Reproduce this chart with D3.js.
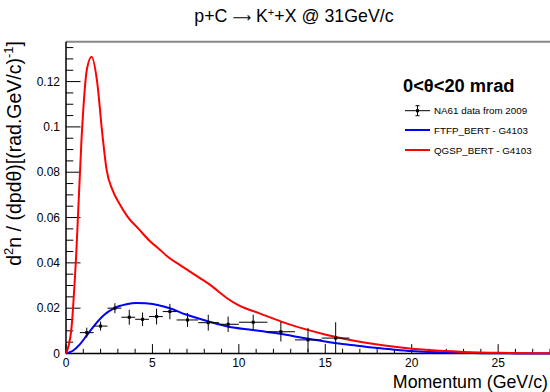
<!DOCTYPE html>
<html><head><meta charset="utf-8">
<script src="https://cdn.jsdelivr.net/npm/d3@7"></script>
<style>body{margin:0;background:#fff}svg{display:block;font-family:"Liberation Sans",Arial,sans-serif}</style>
</head><body><svg id="c" width="550" height="392"></svg>
<script>
// NA61 data (momentum bin low, high, value, error)
const dataXLo = [0.8,1.6,2.4,3.2,4.0,4.8,5.6,6.4,7.65,8.85,10.0,11.65,13.25,14.8];
const dataXHi = [1.6,2.4,3.2,4.0,4.8,5.6,6.4,7.65,8.85,10.0,11.65,13.25,14.8,16.4];
const dataX   = [1.2,2.0,2.83,3.66,4.43,5.24,6.01,7.03,8.23,9.38,10.83,12.43,14.0,15.6];
const dataY   = [0.0092,0.0121,0.0200,0.0160,0.0151,0.0163,0.0185,0.0148,0.0136,0.0129,0.0138,0.0096,0.0060,0.0068];
const dataErr = [0.0022,0.0020,0.0022,0.0033,0.0030,0.0035,0.0034,0.0031,0.0035,0.0034,0.0033,0.0043,0.0053,0.0070];
// FTFP_BERT curve
const ftfpX = [0,0.4,0.8,1.2,1.6,2.2,2.8,3.5,4.05,4.6,5.3,6.0,6.9,8.3,9.4,10.8,12.2,14.1,16.0,17,18,19,20,21,22,24,26,28];
const ftfpY = [0,0.0012,0.004,0.008,0.012,0.017,0.020,0.0217,0.0223,0.0222,0.0214,0.0200,0.0173,0.0140,0.0118,0.0104,0.0089,0.0064,0.0042,0.0033,0.0024,0.0017,0.0011,0.0007,0.0004,0.00015,0.00005,0];
// QGSP_BERT curve
const qgspX = [0,0.3,0.6,0.9,1.2,1.48,1.8,2.1,2.35,2.7,3.1,3.6,4.2,4.8,5.4,6.0,6.6,7.2,7.75,8.3,8.8,9.3,10.0,11.2,12.75,15.1,17.0,19,21,23,25,28];
const qgspY = [0,0.01,0.045,0.095,0.125,0.131,0.12,0.097,0.081,0.072,0.066,0.060,0.055,0.050,0.046,0.042,0.039,0.036,0.0333,0.0305,0.0275,0.0245,0.0212,0.0177,0.0133,0.0082,0.0052,0.0030,0.0015,0.0007,0.0003,0.0001];
const xTicks = [0,5,10,15,20,25];
const yTicks = [0,0.02,0.04,0.06,0.08,0.1,0.12];
const legendLabels = ["NA61 data from 2009","FTFP_BERT - G4103","QGSP_BERT - G4103"];

const svg = d3.select("#c");
const L=66, R=550, T=41.7, B=353.5;
const x = d3.scaleLinear().domain([0,28]).range([L,R]);
const y = d3.scaleLinear().domain([0,0.1376]).range([B,T]);

// frame top
svg.append("line").attr("x1",L).attr("x2",R).attr("y1",T).attr("y2",T).attr("stroke","#888").attr("stroke-width",2);

// x axis
const gx = svg.append("g");
gx.append("line").attr("x1",L).attr("x2",R).attr("y1",B).attr("y2",B).attr("stroke","#000").attr("stroke-width",1.5);
d3.range(0,29,1).forEach(v=>{
  const major = v%5===0;
  gx.append("line").attr("x1",x(v)).attr("x2",x(v)).attr("y1",B).attr("y2",B-(major?9.4:4.7)).attr("stroke","#000").attr("stroke-width",1);
});
xTicks.forEach(v=>{
  gx.append("text").attr("x",x(v)).attr("y",B+13).attr("text-anchor","middle").attr("font-size",12).text(v);
});
svg.append("text").attr("x",548).attr("y",388).attr("text-anchor","end").attr("font-size",17.8).text("Momentum (GeV/c)");

// y axis
const gy = svg.append("g");
gy.append("line").attr("x1",L).attr("x2",L).attr("y1",B).attr("y2",T).attr("stroke","#000").attr("stroke-width",1.5);
d3.range(0,0.1376,0.005).forEach((v,i)=>{
  const major = i%4===0;
  gy.append("line").attr("x1",L).attr("x2",L+(major?14.5:7.3)).attr("y1",y(v)).attr("y2",y(v)).attr("stroke","#000").attr("stroke-width",1);
});
yTicks.forEach(v=>{
  gy.append("text").attr("x",L-6).attr("y",y(v)+4).attr("text-anchor","end").attr("font-size",12).text(v);
});
const yt = svg.append("text").attr("transform","translate(21,41) rotate(-90)").attr("text-anchor","end").attr("font-size",19.5);
yt.append("tspan").text("d");
yt.append("tspan").attr("dy",-8).attr("font-size",13).text("2");
yt.append("tspan").attr("dy",8).text("n / (dpd\u03b8)[(rad.GeV/c)");
yt.append("tspan").attr("dy",-8).attr("font-size",13).text("-1");
yt.append("tspan").attr("dy",8).text("]");

// title
const tt = svg.append("text").attr("x",294).attr("y",22).attr("text-anchor","middle").attr("font-size",17.8);
tt.append("tspan").text("p+C ");
tt.append("tspan").attr("font-family","DejaVu Sans").attr("font-size",13).text("\u27F6");
tt.append("tspan").text(" K");
tt.append("tspan").attr("dy",-6).attr("font-size",11).text("+");
tt.append("tspan").attr("dy",6).text("+X @ 31GeV/c");

// curves
const line = d3.line().x(d=>x(d[0])).y(d=>y(d[1])).curve(d3.curveMonotoneX);
svg.append("path").datum(ftfpX.map((v,i)=>[v,ftfpY[i]])).attr("d",line).attr("fill","none").attr("stroke","#0000ff").attr("stroke-width",2);
svg.append("path").datum(qgspX.map((v,i)=>[v,qgspY[i]])).attr("d",line).attr("fill","none").attr("stroke","#ff0000").attr("stroke-width",2);

// data points
const gd = svg.append("g");
dataX.forEach((v,i)=>{
  gd.append("line").attr("x1",x(dataXLo[i])).attr("x2",x(dataXHi[i])).attr("y1",y(dataY[i])).attr("y2",y(dataY[i])).attr("stroke","#000");
  gd.append("line").attr("x1",x(v)).attr("x2",x(v)).attr("y1",y(dataY[i]-dataErr[i])).attr("y2",y(dataY[i]+dataErr[i])).attr("stroke","#000");
  gd.append("rect").attr("x",x(v)-1.5).attr("y",y(dataY[i])-1.5).attr("width",3).attr("height",3).attr("fill","#000");
});

// legend
svg.append("text").attr("x",403).attr("y",92).attr("font-size",18.3).attr("font-weight","bold").text("0<\u03b8<20 mrad");
const ly=[110.7,130,150];
legendLabels.forEach((t,i)=>{
  svg.append("text").attr("x",434).attr("y",ly[i]+3.5).attr("font-size",9.8).text(t);
});
svg.append("line").attr("x1",405).attr("x2",430).attr("y1",ly[0]).attr("y2",ly[0]).attr("stroke","#000");
svg.append("line").attr("x1",417.5).attr("x2",417.5).attr("y1",ly[0]-5).attr("y2",ly[0]+5).attr("stroke","#000");
svg.append("line").attr("x1",415.5).attr("x2",419.5).attr("y1",ly[0]-5).attr("y2",ly[0]-5).attr("stroke","#000");
svg.append("line").attr("x1",415.5).attr("x2",419.5).attr("y1",ly[0]+5).attr("y2",ly[0]+5).attr("stroke","#000");
svg.append("rect").attr("x",416).attr("y",ly[0]-1.5).attr("width",3).attr("height",3).attr("fill","#000");
svg.append("line").attr("x1",405).attr("x2",430).attr("y1",ly[1]).attr("y2",ly[1]).attr("stroke","#0000ff").attr("stroke-width",2);
svg.append("line").attr("x1",405).attr("x2",430).attr("y1",ly[2]).attr("y2",ly[2]).attr("stroke","#ff0000").attr("stroke-width",2);
</script></body></html>
